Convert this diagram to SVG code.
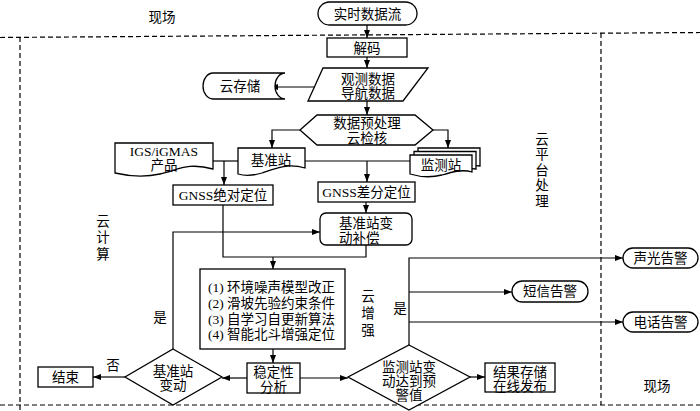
<svg xmlns="http://www.w3.org/2000/svg" width="700" height="411" viewBox="0 0 700 411">
<defs>
<marker id="ah" markerWidth="8" markerHeight="6" refX="8" refY="3" orient="auto" markerUnits="userSpaceOnUse">
<path d="M0,0 L8,3 L0,6 z" fill="#000"/>
</marker>
<style>
text{font-family:"Liberation Serif","Noto Sans CJK SC",serif;font-size:13.5px;fill:#000;text-anchor:middle;dominant-baseline:central}
.s{fill:#fff;stroke:#000;stroke-width:1.3}
.c{fill:none;stroke:#000;stroke-width:1.2}
.a{fill:none;stroke:#000;stroke-width:1.2;marker-end:url(#ah)}
.d{fill:none;stroke:#000;stroke-width:1.2;stroke-dasharray:5 3}
</style>
</defs>
<rect width="700" height="411" fill="#fff"/>
<g id="regions">
<line class="d" x1="0" y1="37.5" x2="700" y2="32.5"/>
<line class="d" x1="0" y1="405" x2="700" y2="405"/>
<line class="d" x1="20" y1="37" x2="20" y2="411"/>
<line class="d" x1="601" y1="33" x2="601" y2="405"/>
<text x="162" y="17">现场</text>
<text x="657" y="386">现场</text>
<text x="103" y="221">云</text>
<text x="103" y="237.5">计</text>
<text x="103" y="254">算</text>
<text x="542" y="139">云</text>
<text x="542" y="154.5">平</text>
<text x="542" y="170">台</text>
<text x="542" y="185.5">处</text>
<text x="542" y="201">理</text>
<text x="368" y="296">云</text>
<text x="368" y="313">增</text>
<text x="368" y="330">强</text>
</g>
<g id="connectors">
<path class="a" d="M367,25 V38"/>
<path class="a" d="M367,57 V68"/>
<path class="a" d="M314,87 H270"/>
<path class="a" d="M367,101 V115"/>
<path class="a" d="M300,130 H272 V148"/>
<path class="a" d="M433,130 H448 V148"/>
<path class="c" d="M213,161 H238"/>
<path class="a" d="M224,161 V185"/>
<path class="c" d="M305,161 H410"/>
<path class="a" d="M367,161 V182"/>
<path class="a" d="M366,202 V213"/>
<path class="c" d="M223,205 V257 H366 V245"/>
<path class="a" d="M273,257 V269"/>
<path class="a" d="M273,349 V363"/>
<path class="a" d="M247,378 H222"/>
<path class="a" d="M125,377 H93"/>
<path class="a" d="M173,349 V232 H320"/>
<path class="a" d="M300,378 H348"/>
<path class="a" d="M470,377 H485"/>
<path class="a" d="M409,345 V258 H623"/>
<path class="a" d="M409,292 H512"/>
<path class="a" d="M409,322 H623"/>
<text x="113" y="365">否</text>
<text x="160" y="317">是</text>
<text x="400" y="308">是</text>
</g>
<g id="n-stream">
<rect class="s" x="318" y="2" width="99" height="23" rx="11.5"/>
<text x="367.5" y="14">实时数据流</text>
</g>
<g id="n-decode">
<rect class="s" x="327" y="38" width="80" height="19"/>
<text x="367" y="48">解码</text>
</g>
<g id="n-obs">
<path class="s" d="M323,68 H428 L403,101 H308 Z"/>
<text x="368" y="79">观测数据</text>
<text x="368" y="93">导航数据</text>
</g>
<g id="n-storage">
<path class="s" d="M285,73 H213 A10,13 0 0 0 213,99 H285 A10,13 0 0 1 285,73 Z"/>
<text x="240" y="86.5">云存储</text>
</g>
<g id="n-pre">
<path class="s" d="M300,130 L317,115 H415 L433,130 L415,145 H317 Z"/>
<text x="367" y="123.5">数据预处理</text>
<text x="367" y="138">云检核</text>
</g>
<g id="n-igs">
<path class="s" d="M115,143 H213 V169 C188,162 178,170 160,174 C142,178 128,176 115,173 Z"/>
<text x="164" y="151">IGS/iGMAS</text>
<text x="164" y="165">产品</text>
</g>
<g id="n-base">
<path class="s" d="M238,148 H305 V168 C288,163 276,168 262,173 C252,176 245,176 238,174 Z"/>
<text x="271" y="160">基准站</text>
</g>
<g id="n-monitor">
<path class="s" d="M418,148 H480 V166 C474,165 471,166 468,167 H418 Z"/>
<path class="s" d="M414,151.5 H476 V169 C470,168 467,169 463,170 H414 Z"/>
<path class="s" d="M410,155 H472 V172 C462,169 452,172 442,175 C430,178 420,177 410,174 Z"/>
<text x="441" y="165">监测站</text>
</g>
<g id="n-abs">
<rect class="s" x="173" y="185" width="100" height="20"/>
<text x="223" y="195">GNSS绝对定位</text>
</g>
<g id="n-diff">
<rect class="s" x="318" y="182" width="97" height="20"/>
<text x="366.5" y="192">GNSS差分定位</text>
</g>
<g id="n-comp">
<rect class="s" x="320" y="213" width="92" height="32" rx="6"/>
<text x="339" y="223" style="text-anchor:start">基准站变</text>
<text x="339" y="238" style="text-anchor:start">动补偿</text>
</g>
<g id="n-methods">
<rect class="s" x="200" y="269" width="145" height="80"/>
<text x="208" y="287" style="text-anchor:start">(1) 环境噪声模型改正</text>
<text x="208" y="303" style="text-anchor:start">(2) 滑坡先验约束条件</text>
<text x="208" y="319" style="text-anchor:start">(3) 自学习自更新算法</text>
<text x="208" y="334.5" style="text-anchor:start">(4) 智能北斗增强定位</text>
</g>
<g id="n-stab">
<rect class="s" x="247" y="363" width="53" height="30"/>
<text x="273.5" y="372.5">稳定性</text>
<text x="273.5" y="387">分析</text>
</g>
<g id="n-basechg">
<path class="s" d="M173,349 L222,377 L173,405 L125,377 Z"/>
<text x="173" y="371">基准站</text>
<text x="173" y="385">变动</text>
</g>
<g id="n-end">
<rect class="s" x="38" y="367" width="55" height="20"/>
<text x="65.5" y="377">结束</text>
</g>
<g id="n-warn">
<path class="s" d="M409,345 L470,377 L409,410 L348,377 Z"/>
<text x="409" y="367">监测站变</text>
<text x="409" y="381">动达到预</text>
<text x="409" y="395">警值</text>
</g>
<g id="n-result">
<rect class="s" x="485" y="363" width="70" height="29"/>
<text x="520" y="372.5">结果存储</text>
<text x="520" y="386.5">在线发布</text>
</g>
<g id="n-sound">
<rect class="s" x="623" y="248" width="75" height="20" rx="10"/>
<text x="660.5" y="258">声光告警</text>
</g>
<g id="n-sms">
<rect class="s" x="512" y="281" width="76" height="21" rx="10.5"/>
<text x="550" y="291.5">短信告警</text>
</g>
<g id="n-phone">
<rect class="s" x="623" y="312" width="75" height="20" rx="10"/>
<text x="660.5" y="322">电话告警</text>
</g>
</svg>
